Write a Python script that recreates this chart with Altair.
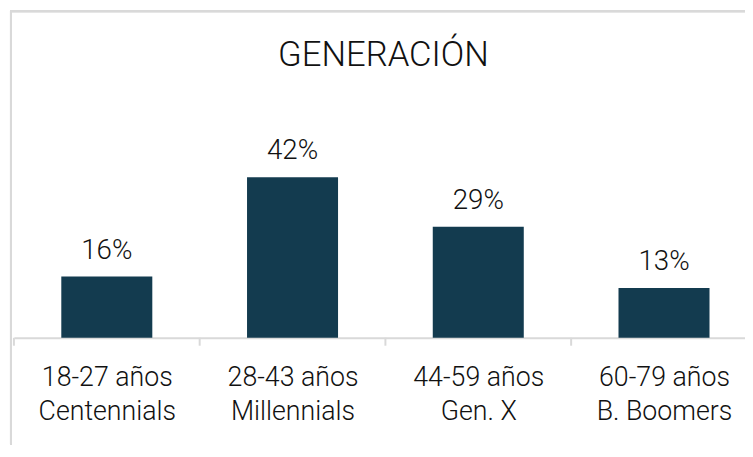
import altair as alt
import pandas as pd

categories = ["18-27 años|Centennials", "28-43 años|Millennials", "44-59 años|Gen. X", "60-79 años|B. Boomers"]
values = [16, 42, 29, 13]
labels = ["16%", "42%", "29%", "13%"]

idx = list(range(len(categories)))
df = pd.DataFrame({
    "cat": categories, "val": values, "lab": labels, "idx": idx,
    "center": [i + 0.5 for i in idx],
    "left": [i + 0.255 for i in idx],
    "right": [i + 0.745 for i in idx],
})

FONT = "Roboto"
W, H = 739, 174
STEP = 751 / 4  # pixel width of one category band

label_list = "[" + ",".join("'" + c + "'" for c in categories) + "]"
x_scale = alt.Scale(domain=[0, W / STEP], nice=False, zero=False)
x_axis = alt.Axis(values=[i + 0.5 for i in idx], title=None, grid=False, ticks=False,
                  labelExpr=f"split({label_list}[floor(datum.value)], '|')",
                  labelAngle=0, labelFontSize=27, labelFont=FONT, labelFontWeight=300,
                  labelColor="#111111", labelLineHeight=35, labelBaseline="top",
                  labelPadding=27, labelFlush=False, labelOverlap=False,
                  domainColor="#d9d9d9", domainWidth=2)
y = alt.Y("val:Q", scale=alt.Scale(domain=[0, 45]), axis=None)

axis_layer = alt.Chart(df).mark_point(opacity=0).encode(
    x=alt.X("center:Q", scale=x_scale, axis=x_axis), y=y)
bars = alt.Chart(df).mark_rect(color="#133b4f").encode(
    x=alt.X("left:Q", scale=x_scale), x2="right:Q", y=y, y2=alt.datum(0))
text = alt.Chart(df).mark_text(baseline="alphabetic", dy=-18, fontSize=28, font=FONT,
                               fontWeight=300, color="#111111").encode(
    x=alt.X("center:Q", scale=x_scale), y=y, text="lab:N")
ticks = alt.Chart(df).mark_rule(color="#d9d9d9", strokeWidth=2).encode(
    x=alt.X("idx:Q", scale=x_scale), y=alt.value(H), y2=alt.value(H + 8))
border_left = alt.Chart(df).mark_rule(color="#d9d9d9", strokeWidth=2).encode(
    x=alt.value(-3), y=alt.value(-156), y2=alt.value(H + 108))
border_top = alt.Chart(df).mark_rule(color="#d9d9d9", strokeWidth=2).encode(
    x=alt.value(-4), x2=alt.value(W), y=alt.value(-156))

chart = alt.layer(border_left, border_top, axis_layer, ticks, bars, text).properties(
    width=W, height=H,
    autosize=alt.AutoSizeParams(type="none"),
    padding={"left": 6, "right": 0, "top": 157, "bottom": 108},
    title=alt.TitleParams("GENERACIÓN", fontSize=35, font=FONT, fontWeight=300,
                          color="#111111", anchor="middle", frame="group",
                          baseline="alphabetic", offset=-91, dx=4),
    background="white",
).configure_view(stroke=None)

chart.save("out.html", embed_options={"renderer": "svg", "actions": False})
